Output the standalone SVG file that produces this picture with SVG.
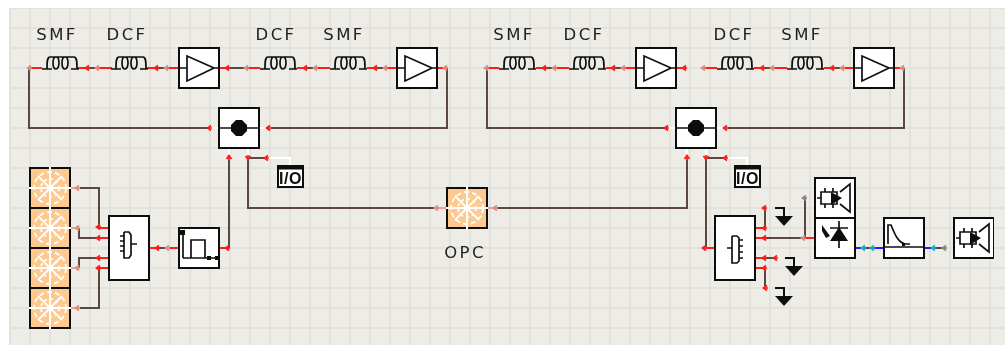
<svg xmlns="http://www.w3.org/2000/svg" width="1005" height="345" viewBox="0 0 1005 345">
<style>
.w{fill:none;stroke:#5a4a40;stroke-width:2}
.r{fill:none;stroke:#ff1a1a;stroke-width:2}
.pk{fill:none;stroke:#e8a090;stroke-width:2}
.b{fill:none;stroke:#1a1aff;stroke-width:2}
.wh{fill:none;stroke:#fff;stroke-width:2}
.box{fill:#fff;stroke:#111;stroke-width:2}
.s{fill:none;stroke:#111;stroke-width:1.700}
.k{fill:#111;stroke:none}
.t{font-family:"DejaVu Sans",sans-serif;font-size:16.500px;letter-spacing:2.400px;fill:#222;text-anchor:middle}
.io{font-family:"Liberation Sans",sans-serif;font-size:16px;font-weight:bold;fill:#111;text-anchor:middle;letter-spacing:.5px}
.sw{fill:none;stroke:#fff;stroke-width:1.800}
</style>
<defs>
<filter id="soft" x="0" y="0" width="100%" height="100%"><feGaussianBlur stdDeviation="0.4"/></filter>
<pattern id="grid" width="20" height="20" patternUnits="userSpaceOnUse" x="9" y="7"><rect width="20" height="20" fill="#eeece7"/><path d="M1 0V20M0 1H20" stroke="#e2e1db" stroke-width="2"/></pattern>
<g id="pr"><path d="M-2.500 0H2M1 -2.500L-2.500 0L1 2.500" fill="none" stroke="#ff1a1a" stroke-width="1.700"/></g>
<g id="pp"><path d="M-2.500 0H2M1 -2.500L-2.500 0L1 2.500" fill="none" stroke="#d99080" stroke-width="1.700"/></g>
<g id="pg"><path d="M-2.500 0H2M1 -2.500L-2.500 0L1 2.500" fill="none" stroke="#888" stroke-width="1.700"/></g>
<g id="pc"><path d="M-2.500 0H2M1 -2.500L-2.500 0L1 2.500" fill="none" stroke="#1fb0c0" stroke-width="1.700"/></g>
<g id="coil"><path class="s" stroke-width="2" d="M0 1H10M5 1C5 -6 5 -11 8 -11H14C18 -11 18 1 14 1C10 1 10 -11 14 -11H23C27 -11 27 1 23 1C19 1 19 -11 23 -11H32C35 -11 35 -6 35 1M29 1H37"/></g>
<g id="amp"><rect class="box" width="40" height="40"/><path class="s" d="M0 20H8M8 8L35 20L8 33ZM35 20H40"/></g>
<g id="star"><rect width="40" height="40" fill="#fdc98f" stroke="#111" stroke-width="2"/><path d="M20 -1V41" stroke="#fff" stroke-width="2"/><g class="sw"><path d="M-1 20H41M8 8L32 32M32 8L8 32"/><circle cx="20" cy="20" r="16" stroke-dasharray="5 3"/><circle cx="20" cy="20" r="9" stroke-dasharray="3 3"/></g></g>
<g id="cpl"><rect class="box" width="40" height="40"/><path class="s" d="M0 20H40"/><path class="k" d="M12 17L17 12H23L28 17V23L23 28H17L12 23Z"/></g>
<g id="io"><rect x="0" y="0" width="25" height="21" fill="#fff" stroke="#111" stroke-width="2"/><rect x="0" y="0" width="25" height="3.500" fill="#111"/><text class="io" x="12.500" y="18">I/O</text></g>
<g id="gnd"><path d="M0 0H9V9" fill="none" stroke="#111" stroke-width="2"/><path class="k" d="M0 8H18L9 18Z"/></g>
<g id="spk"><rect class="box" width="40" height="40"/><path class="s" d="M6 14H22V26H6ZM10 10V14M18 10V14M10 26V30M18 26V30M2 20H6" stroke-width="2.600"/><path class="s" d="M25 14L35 6V34L25 26" stroke-width="2"/><path class="k" d="M16 14L27 20L16 27Z"/></g>
</defs>
<rect width="1005" height="345" fill="#fff"/>
<rect x="9" y="8" width="996" height="337" fill="url(#grid)"/>
<g filter="url(#soft)">
<g id="connectors">
<path class="w" d="M29 68V128H208"/>
<path class="w" d="M447 68V128H271"/>
<path class="w" d="M487 68V128H665"/>
<path class="w" d="M904 68V128H728"/>
<path class="w" d="M229 248V160M248 158H267M248 158V208H436"/>
<path class="w" d="M497 208H687V160M706 158H726M706 158V247"/>
<path class="w" d="M80 188H99V227M79 228V238H99M79 268V258H99M80 308H99V268"/>
<path class="w" d="M158 248H168"/>
<path class="w" d="M765 228V208M765 258H776M765 268V288M755 238H805V198"/>
<path class="w" d="M229 68H247M88 68H98M156 68H168M306 68H316M376 68H386M545 68H555M613 68H625M763 68H773M833 68H843M864 248H873M934 248H945"/>
<path class="r" d="M29 68H42M78 68H89M97 68H112M147 68H157M167 68H179M219 68H229M247 68H260M297 68H307M315 68H330M367 68H377M385 68H397M437 68H447"/>
<path class="r" d="M487 68H499M536 68H546M554 68H569M606 68H614M624 68H636M676 68H686M704 68H717M754 68H764M772 68H787M824 68H834M842 68H854M894 68H904"/>
<path class="r" d="M99 228H109M99 238H109M99 258H109M99 268H109M149 248H159M169 248H179M219 248H229M706 248H715M755 228H765M755 238H766M805 238H815M755 258H766M755 268H765"/>
<path class="pk" d="M70 188H78M70 228H78M70 268H78M70 308H78M436 208H447M487 208H497"/>
<path class="b" d="M855 248H865M873 248H884M925 248H935"/>
<path class="wh" d="M218 128H212M259 128H267M229 148V155M248 148V155M267 158H290V166M675 128H669M716 128H724M687 148V155M706 148V155M726 158H747V166"/>
<g>
<use href="#pp" x="30" y="68"/><use href="#pr" x="88" y="68"/><use href="#pp" x="98" y="68"/><use href="#pr" x="157" y="68"/><use href="#pp" x="167" y="68"/><use href="#pr" x="228" y="68"/><use href="#pp" x="247" y="68"/><use href="#pr" x="306" y="68"/><use href="#pp" x="316" y="68"/><use href="#pr" x="376" y="68"/><use href="#pp" x="386" y="68"/><use href="#pp" x="446" y="68"/>
<use href="#pp" x="487" y="68"/><use href="#pr" x="545" y="68"/><use href="#pp" x="555" y="68"/><use href="#pr" x="614" y="68"/><use href="#pp" x="624" y="68"/><use href="#pr" x="685" y="68"/><use href="#pp" x="704" y="68"/><use href="#pr" x="763" y="68"/><use href="#pp" x="773" y="68"/><use href="#pr" x="833" y="68"/><use href="#pp" x="843" y="68"/><use href="#pp" x="903" y="68"/>
<use href="#pr" x="210" y="128"/><use href="#pr" x="269" y="128"/><use href="#pr" x="667" y="128"/><use href="#pr" x="726" y="128"/>
<use href="#pr" transform="translate(229 158) rotate(90)"/><use href="#pr" transform="translate(248 157) rotate(-90)"/><use href="#pr" x="267" y="158"/>
<use href="#pr" transform="translate(687 158) rotate(90)"/><use href="#pr" transform="translate(706 157) rotate(-90)"/><use href="#pr" x="726" y="158"/>
<use href="#pp" x="437" y="208"/><use href="#pp" x="496" y="208"/>
<use href="#pp" x="78" y="188"/><use href="#pp" x="78" y="228"/><use href="#pp" x="78" y="268"/><use href="#pp" x="78" y="308"/>
<use href="#pr" x="99" y="227"/><use href="#pr" x="99" y="238"/><use href="#pr" x="99" y="258"/><use href="#pr" x="99" y="268"/>
<use href="#pr" x="158" y="248"/><use href="#pp" x="168" y="248"/><use href="#pr" x="228" y="248"/>
<use href="#pr" x="705" y="248"/><use href="#pr" x="765" y="208"/><use href="#pr" x="765" y="228"/><use href="#pr" x="765" y="238"/><use href="#pp" x="804" y="238"/><use href="#pg" x="805" y="198"/>
<use href="#pr" x="765" y="258"/><use href="#pr" x="776" y="258"/><use href="#pr" x="765" y="268"/><use href="#pr" x="766" y="288"/>
<use href="#pc" x="864" y="248"/><use href="#pc" x="873" y="248"/><use href="#pc" x="934" y="248"/><use href="#pg" x="945" y="248"/>
</g>
</g>

<g id="fiber1"><use href="#coil" x="42" y="68"/><text class="t" x="57" y="40">SMF</text></g>
<g id="fiber2"><use href="#coil" x="111" y="68"/><text class="t" x="127" y="40">DCF</text></g>
<g id="amp1"><use href="#amp" x="179" y="48"/></g>
<g id="fiber3"><use href="#coil" x="260" y="68"/><text class="t" x="276" y="40">DCF</text></g>
<g id="fiber4"><use href="#coil" x="330" y="68"/><text class="t" x="344" y="40">SMF</text></g>
<g id="amp2"><use href="#amp" x="397" y="48"/></g>
<g id="fiber5"><use href="#coil" x="499" y="68"/><text class="t" x="514" y="40">SMF</text></g>
<g id="fiber6"><use href="#coil" x="569" y="68"/><text class="t" x="584" y="40">DCF</text></g>
<g id="amp3"><use href="#amp" x="636" y="48"/></g>
<g id="fiber7"><use href="#coil" x="717" y="68"/><text class="t" x="734" y="40">DCF</text></g>
<g id="fiber8"><use href="#coil" x="787" y="68"/><text class="t" x="802" y="40">SMF</text></g>
<g id="amp4"><use href="#amp" x="854" y="48"/></g>

<g id="coupler1"><use href="#cpl" x="219" y="108"/></g>
<g id="coupler2"><use href="#cpl" x="676" y="108"/></g>
<g id="io1"><use href="#io" x="278" y="166"/></g>
<g id="io2"><use href="#io" x="735" y="166"/></g>

<g id="source1"><use href="#star" x="30" y="168"/></g>
<g id="source2"><use href="#star" x="30" y="208"/></g>
<g id="source3"><use href="#star" x="30" y="248"/></g>
<g id="source4"><use href="#star" x="30" y="288"/></g>

<g id="mux"><rect class="box" x="109" y="216" width="40" height="64"/><path class="s" d="M124 232H129L131 235V255L129 258H124V232M120 236H124M120 241H124M120 246H124M120 251H124M131 244H137"/></g>
<g id="filter1"><rect class="box" x="179" y="228" width="40" height="40"/><path class="s" d="M183 258V232M183 258H217M191 258V240H205V258"/><rect class="k" x="180" y="230" width="5" height="5"/><rect class="k" x="207" y="256" width="4" height="4"/><rect class="k" x="215" y="256" width="4" height="4"/></g>
<g id="opc"><use href="#star" x="447" y="188"/><text class="t" x="465" y="258">OPC</text></g>
<g id="demux"><rect class="box" x="715" y="216" width="40" height="64"/><path class="s" d="M732 236H737L739 238V261L737 263H732V236M739 240H743M739 246H743M739 252H743M739 258H743M732 248H727"/></g>
<g id="gnd1"><use href="#gnd" x="775" y="208"/></g>
<g id="gnd2"><use href="#gnd" x="785" y="258"/></g>
<g id="gnd3"><use href="#gnd" x="775" y="288"/></g>
<g id="scope1"><use href="#spk" x="815" y="178"/></g>
<g id="pd"><rect class="box" x="815" y="218" width="40" height="40"/><path class="k" d="M830 241H848L839 227Z"/><path class="s" d="M839 221V248M830 228H848"/><path class="k" d="M822 225L830 236L826 238L822 231Z"/></g>
<g id="lpf"><rect class="box" x="884" y="218" width="40" height="40"/><path class="s" d="M884 247H924M888 244V225H891C895 235 898 242 905 244H910"/><rect class="k" x="902" y="243" width="3" height="3"/></g>
<g id="scope2"><use href="#spk" x="954" y="218"/></g>
</g>
</svg>
